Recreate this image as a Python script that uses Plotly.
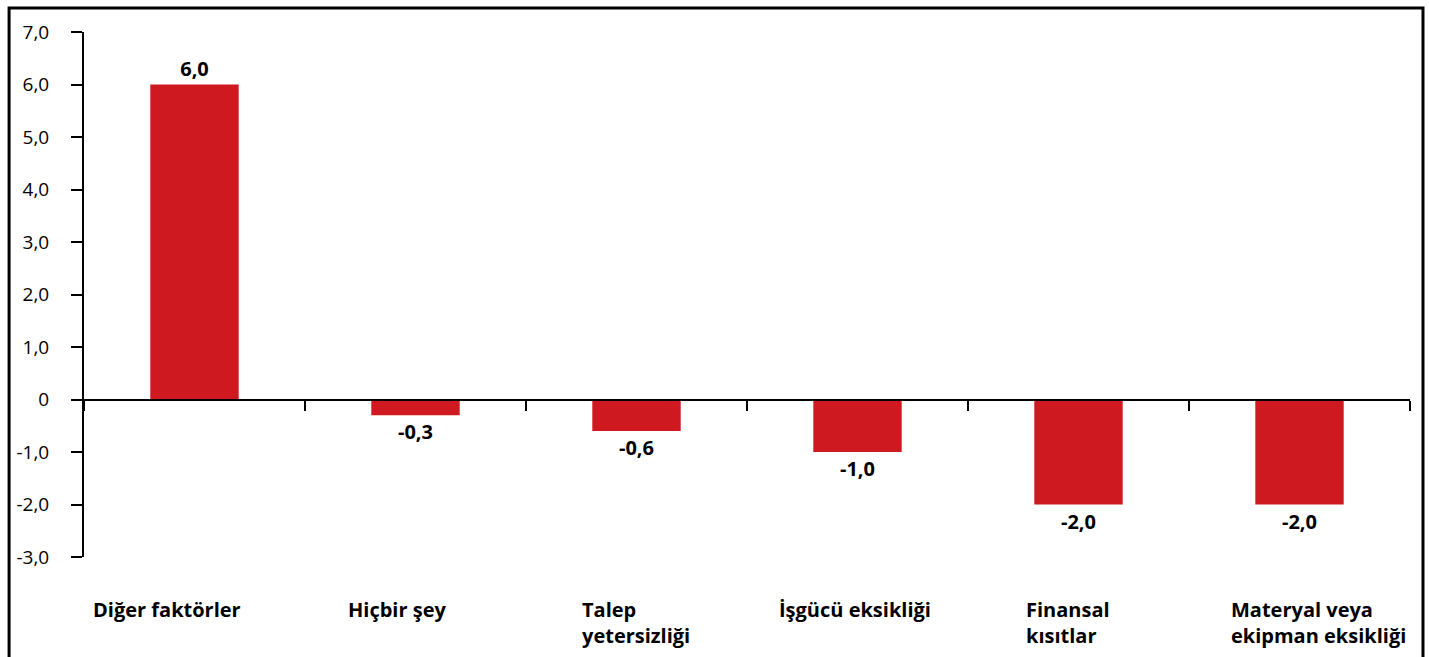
import plotly.graph_objects as go

categories = ["Diğer faktörler", "Hiçbir şey", "Talep yetersizliği", "İşgücü eksikliği",
              "Finansal kısıtlar", "Materyal veya ekipman eksikliği"]
cat_labels = ["Diğer faktörler", "Hiçbir şey", "Talep<br>yetersizliği", "İşgücü eksikliği",
              "Finansal<br>kısıtlar", "Materyal veya<br>ekipman eksikliği"]
values = [6.0, -0.3, -0.6, -1.0, -2.0, -2.0]
tick_vals = [7, 6, 5, 4, 3, 2, 1, 0, -1, -2, -3]
tick_text = ["7,0", "6,0", "5,0", "4,0", "3,0", "2,0", "1,0", "0", "-1,0", "-2,0", "-3,0"]

# horizontal nudges of the category labels (pixels), as set in the original layout
label_shift = [-28, -19, -1, -3, -11, 19]

FONT = "Open Sans"
RED = "#CF1920"

fig = go.Figure()
fig.add_trace(go.Bar(
    x=categories, y=values, width=0.4,
    marker=dict(color=RED, line=dict(width=0)),
    texttemplate="<b>%{y:.1f}</b>", textposition="outside",
    textfont=dict(family=FONT, size=20, color="black"),
    cliponaxis=False, hoverinfo="skip",
))

ymin, ymax = -3, 7
fig.update_layout(
    width=1429, height=657,
    margin=dict(l=84, r=19, t=32, b=100),
    paper_bgcolor="white", plot_bgcolor="white",
    separators=",.",
    showlegend=False,
    font=dict(family=FONT, color="black"),
    xaxis=dict(
        type="category", anchor="free", position=(0 - ymin) / (ymax - ymin),
        showline=True, linecolor="black", linewidth=2,
        ticks="outside", tickson="boundaries", ticklen=10, tickwidth=2, tickcolor="black",
        showticklabels=False, showgrid=False, zeroline=False,
    ),
    yaxis=dict(
        range=[ymin, ymax], tickvals=tick_vals, ticktext=tick_text,
        showline=True, linecolor="black", linewidth=2,
        ticks="outside", ticklen=11, tickwidth=2, tickcolor="black",
        tickfont=dict(family=FONT, size=19, color="black"),
        ticklabelstandoff=18,
        showgrid=False, zeroline=False,
    ),
)

for c, lab, dx in zip(categories, cat_labels, label_shift):
    fig.add_annotation(
        x=c, xref="x", y=-0.07, yref="paper", yanchor="top", xanchor="center",
        xshift=dx,
        text="<b>" + lab + "</b>", align="left", showarrow=False,
        font=dict(family=FONT, size=20, color="black"),
    )

# outer frame
fig.add_shape(type="rect", xref="paper", yref="paper",
              x0=-0.0565, x1=1.0098, y0=-0.25, y1=1.0457,
              line=dict(color="black", width=3), fillcolor="rgba(0,0,0,0)", layer="below")

fig.write_html("out.html", config={"displayModeBar": False},
               post_script="document.body.style.margin='0';")
